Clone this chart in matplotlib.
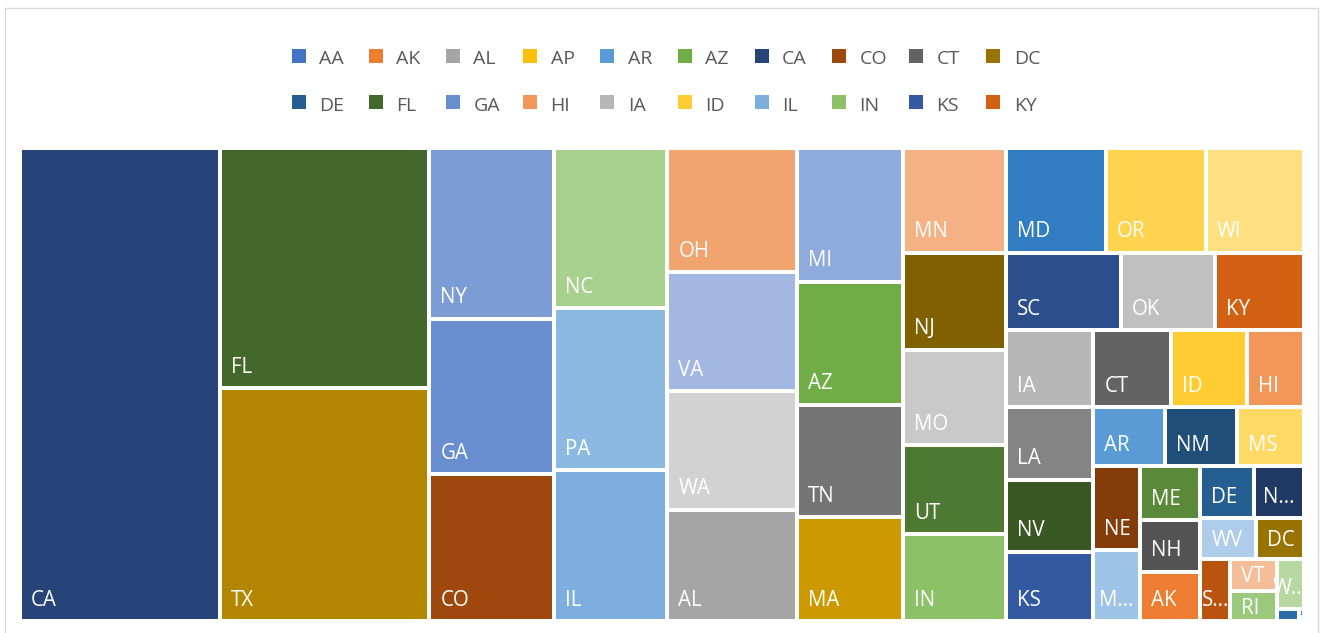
import colorsys
import matplotlib
matplotlib.use("Agg")
import matplotlib.pyplot as plt
from matplotlib.patches import Rectangle
from matplotlib.colors import to_rgb

# ---------------- data (layout order, as drawn by the treemap) ----------------
states = ['CA', 'FL', 'TX', 'NY', 'GA', 'CO', 'NC', 'PA', 'IL', 'OH', 'VA', 'WA',
          'AL', 'MI', 'AZ', 'TN', 'MA', 'MN', 'MD', 'OR', 'WI', 'NJ', 'MO', 'UT',
          'IN', 'SC', 'OK', 'KY', 'IA', 'CT', 'ID', 'HI', 'LA', 'NV', 'KS', 'AR',
          'NM', 'MS', 'NE', 'MT', 'ME', 'NH', 'AK', 'DE', 'ND', 'WV', 'DC', 'SD',
          'VT', 'RI', 'WY', 'UM', 'AA', 'AP']
values = [9488, 5035, 4864, 2126, 1925, 1826, 1827, 1844, 1715, 1617, 1541, 1533,
          1446, 1415, 1298, 1188, 1096, 1089, 1049, 1052, 1026, 999, 988, 923,
          898, 883, 731, 684, 667, 598, 583, 432, 633, 623, 606, 427,
          422, 397, 387, 328, 328, 310, 302, 278, 254, 224, 194, 186,
          151, 140, 137, 27, 4, 2]

# strips of the treemap: (number of items, 'V' = column at left, 'H' = row at top)
strips = [(1, 'V'), (2, 'V'), (3, 'V'), (3, 'V'), (4, 'V'), (4, 'V'), (4, 'H'),
          (4, 'V'), (3, 'H'), (4, 'H'), (3, 'V'), (3, 'H'), (2, 'V'), (3, 'V'),
          (2, 'H'), (2, 'H'), (1, 'V'), (2, 'V'), (1, 'H'), (1, 'V'), (2, 'V')]

truncated = ['MT', 'ND', 'SD', 'WY']

# ---------------- colours (Excel colourful palette with variations) ----------
BASE = ['#4472C4', '#ED7D31', '#A5A5A5', '#FFC000', '#5B9BD5', '#70AD47']
VARIATIONS = [0, -0.4, 0.2, -0.2, 0.4, -0.5, 0.3, -0.3, 0.5]


def excel_color(i):
    r, g, b = to_rgb(BASE[i % 6])
    h, l, s = colorsys.rgb_to_hls(r, g, b)
    v = VARIATIONS[(i // 6) % len(VARIATIONS)]
    l = l * (1 + v) if v < 0 else l + (1 - l) * v
    return colorsys.hls_to_rgb(h, l, s)


alpha_order = sorted(states)
color_of = {s: excel_color(i) for i, s in enumerate(alpha_order)}

# ---------------- layout ----------------
W, H = 1322, 633
X0, X1, Y0, Y1 = 19.5, 1303.7, 147.5, 621.3


def strip_layout(vals, strips, rect):
    x0, y0, x1, y1 = rect
    cells = []
    i = 0
    for n, orient in strips:
        rest = sum(vals[i:])
        scale = (x1 - x0) * (y1 - y0) / rest
        chunk = vals[i:i + n]
        tot = sum(chunk) * scale
        if orient == 'V':
            w = tot / (y1 - y0)
            yy = y0
            for v in chunk:
                h = v * scale / w
                cells.append((x0, yy, w, h))
                yy += h
            x0 += w
        else:
            h = tot / (x1 - x0)
            xx = x0
            for v in chunk:
                w = v * scale / h
                cells.append((xx, y0, w, h))
                xx += w
            y0 += h
        i += n
    return cells


cells = strip_layout(values, strips, (X0, Y0, X1, Y1))

plt.rcParams['font.family'] = ['Open Sans', 'DejaVu Sans']
fig = plt.figure(figsize=(W / 100, H / 100), dpi=100)
ax = fig.add_axes([0, 0, 1, 1])
ax.set_xlim(0, W)
ax.set_ylim(H, 0)
ax.axis('off')

# chart border (its bottom edge lies below the picture)
ax.add_patch(Rectangle((4.5, 7.5), 1313.5, 640, facecolor='none',
                       edgecolor='#D9D9D9', linewidth=1.0, clip_on=False))

gap_pt = 4 * 72 / 100
CAP = 14.7
for name, (x, y, w, h) in zip(states, cells):
    ax.add_patch(Rectangle((x, y), w, h, facecolor=color_of[name],
                           edgecolor='white', linewidth=gap_pt))
    if w < 15 or h < 20:
        continue
    if h >= 45:
        yb = y + h - 15.5
    else:
        yb = y + h / 2 + CAP / 2
    if name in truncated:
        ax.text(x + w / 2, yb, name[0] + '...', color='white', fontsize=14.8,
                ha='center', va='baseline')
    else:
        ax.text(x + 11, yb, name, color='white', fontsize=14.8,
                ha='left', va='baseline')

# legend (Excel shows the first 20 categories alphabetically)
legend_names = alpha_order[:20]
for k, name in enumerate(legend_names):
    row, col = divmod(k, 10)
    mx = 291.5 + col * 77.2
    my = 48.5 + row * 46.8
    ax.add_patch(Rectangle((mx, my), 14, 14, facecolor=color_of[name],
                           edgecolor='none'))
    ax.text(mx + 27.5, my + 15.5, name, color='#595959', fontsize=14,
            ha='left', va='baseline')

fig.savefig('out.png', dpi=100, facecolor='white')
